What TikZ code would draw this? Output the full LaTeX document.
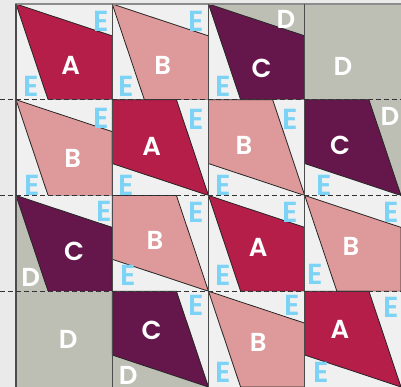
\documentclass[tikz,border=0pt]{standalone}
\usepackage{fontspec}
\setmainfont{Poppins}[BoldFont={* SemiBold}]
\definecolor{cA}{HTML}{B41E48}
\definecolor{cB}{HTML}{DE999A}
\definecolor{cC}{HTML}{65174C}
\definecolor{cD}{HTML}{BDBFB4}
\definecolor{cE}{HTML}{F0F0F0}
\definecolor{cBg}{HTML}{EAEAEA}
\definecolor{eBlue}{HTML}{7DD3F5}
\newcommand{\tone}[5]{%
\begin{scope}[shift={({16+#1*96.25},{4+#2*95.75})}]
\fill[#4] (0,0) -- (96.25,0) -- (96.25,31.9) -- cycle;
\fill[#5] (0,0) -- (32.1,95.75) -- (0,95.75) -- cycle;
\filldraw[fill=#3, quadline] (0,0) -- (96.25,31.9) -- (96.25,95.75) -- (32.1,95.75) -- cycle;
\end{scope}}
\newcommand{\ttwo}[5]{%
\begin{scope}[shift={({16+#1*96.25},{4+#2*95.75})}]
\fill[#4] (64.2,0) -- (96.25,0) -- (96.25,95.75) -- cycle;
\fill[#5] (0,63.8) -- (96.25,95.75) -- (0,95.75) -- cycle;
\filldraw[fill=#3, quadline] (0,0) -- (64.2,0) -- (96.25,95.75) -- (0,63.8) -- cycle;
\end{scope}}
\newcommand{\tfull}[2]{%
\fill[cD] ({16+#1*96.25},{4+#2*95.75}) rectangle ++(96.25,95.75);}
\begin{document}
\begin{tikzpicture}[x=1pt,y=-1pt,
  quadline/.style={draw=black!85, line width=0.8pt},
  big/.style={text=white, font=\bfseries\fontsize{26}{26}\selectfont, inner sep=0pt},
  elab/.style={text=eBlue, font=\bfseries\fontsize{29}{29}\selectfont, inner sep=0pt},
  vline/.style={draw=black!70, line width=1.2pt},
  hline/.style={draw=black!80, line width=1.1pt, dash pattern=on 5pt off 3pt}]
\useasboundingbox (0,0) rectangle (401,387);
\fill[cBg] (0,0) rectangle (401,387);
\fill[cE] (16,4) rectangle (401,387);
% row 1
\tone{0}{0}{cA}{cE}{cE}
\tone{1}{0}{cB}{cE}{cE}
\tone{2}{0}{cC}{cD}{cE}
\tfull{3}{0}
% row 2
\tone{0}{1}{cB}{cE}{cE}
\ttwo{1}{1}{cA}{cE}{cE}
\ttwo{2}{1}{cB}{cE}{cE}
\ttwo{3}{1}{cC}{cD}{cE}
% row 3
\tone{0}{2}{cC}{cE}{cD}
\ttwo{1}{2}{cB}{cE}{cE}
\tone{2}{2}{cA}{cE}{cE}
\tone{3}{2}{cB}{cE}{cE}
% row 4
\tfull{0}{3}
\ttwo{1}{3}{cC}{cE}{cD}
\tone{2}{3}{cB}{cE}{cE}
\ttwo{3}{3}{cA}{cE}{cE}
% grid lines
\draw[draw=black!45, line width=1.2pt] (16,4) -- (401,4);
\foreach \gx in {16,112.25,208.5,304.75} \draw[vline] (\gx,4) -- (\gx,387);
\foreach \gy in {99.75,195.5,291.25} \draw[hline] (0,\gy) -- (401,\gy);
% labels row 1
\node[big] (l11) at (70.7,65) {A};
\node[elab] (e11a) at (101,21.7) {E};
\node[elab] (e11b) at (31.7,86) {E};
\node[big] (l12) at (162.7,65) {B};
\node[elab] (e12a) at (196,21.7) {E};
\node[elab] (e12b) at (126.7,86) {E};
\node[big] (l13) at (261.7,68) {C};
\node[big] (d13) at (286,19) {D};
\node[elab] (e13b) at (223,86) {E};
\node[big] (l14) at (343,66) {D};
% row 2
\node[big] (l21) at (72.7,158) {B};
\node[elab] (e21a) at (101,118) {E};
\node[elab] (e21b) at (32,185) {E};
\node[big] (l22) at (151.7,146.7) {A};
\node[elab] (e22a) at (196.7,119) {E};
\node[elab] (e22b) at (126,185) {E};
\node[big] (l23) at (244,145) {B};
\node[elab] (e23a) at (290.7,119) {E};
\node[elab] (e23b) at (223,185) {E};
\node[big] (l24) at (340,145.7) {C};
\node[big] (d24) at (390,116.7) {D};
\node[elab] (e24b) at (324,185) {E};
% row 3
\node[big] (l31) at (74,251.7) {C};
\node[elab] (e31a) at (104.3,211.7) {E};
\node[big] (d31) at (30.7,277) {D};
\node[big] (l32) at (155,240.7) {B};
\node[elab] (e32a) at (196.7,212.7) {E};
\node[elab] (e32b) at (128.3,275) {E};
\node[big] (l33) at (258.3,247.3) {A};
\node[elab] (e33a) at (290.7,212.7) {E};
\node[elab] (e33b) at (223.3,275) {E};
\node[big] (l34) at (351,246.7) {B};
\node[elab] (e34a) at (391.7,212.7) {E};
\node[elab] (e34b) at (315,274) {E};
% row 4
\node[big] (l41) at (68.3,339) {D};
\node[big] (l42) at (151.7,330) {C};
\node[elab] (e42a) at (196.7,305) {E};
\node[big] (d42) at (128.3,375) {D};
\node[big] (l43) at (258.3,342.7) {B};
\node[elab] (e43a) at (292.7,305) {E};
\node[elab] (e43b) at (223.3,372.7) {E};
\node[big] (l44) at (340,329.3) {A};
\node[elab] (e44a) at (391.7,307.3) {E};
\node[elab] (e44b) at (321.7,372.7) {E};
\end{tikzpicture}
\end{document}
